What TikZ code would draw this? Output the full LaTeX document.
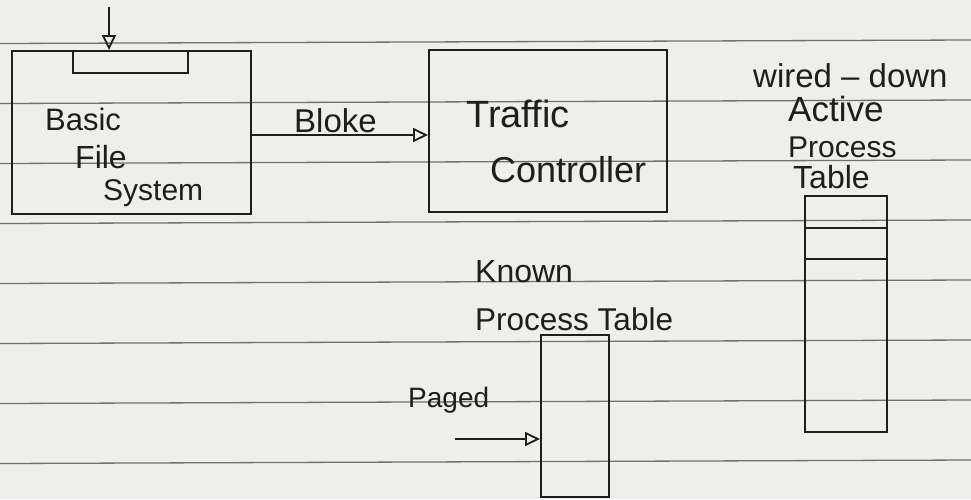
\documentclass[tikz,border=0pt]{standalone}
\usepackage{fontspec}
\setmainfont{Liberation Sans}
\usetikzlibrary{arrows.meta}
\definecolor{paper}{HTML}{EEEEEB}
\definecolor{rule}{HTML}{707070}
\definecolor{ink}{HTML}{1E1E1E}
\tikzset{
  box/.style={draw=ink, line width=2pt, rectangle, inner sep=0pt, fill=none},
  txt/.style={text=ink, inner sep=0pt, anchor=base west},
  conn/.style={draw=ink, line width=1.8pt, -{Triangle[open, length=15pt, width=14pt, line width=1.8pt]}},
  ruleline/.style={draw=rule, line width=1.3pt},
  sep/.style={draw=ink, line width=1.8pt}
}
\newcommand{\fs}[1]{\fontsize{#1}{#1}\selectfont}
\begin{document}
\begin{tikzpicture}[x=1pt, y=-1pt]
\fill[paper] (0,0) rectangle (971,499);
\useasboundingbox (0,0) rectangle (971,499);
% ruled lines of the paper
\foreach \k in {0,...,7} {
  \draw[ruleline] (0,{43.5+60*\k}) -- (971,{40+60*\k});
}
% Basic File System
\node[box, minimum width=239pt, minimum height=163pt] (bfs) at (131.5,132.5) {};
\node[box, minimum width=115pt, minimum height=22pt] (slot) at (130.5,62) {};
\coordinate (in) at (109,7);
\draw[conn] (in) -- (in |- bfs.north);
\node[txt, font=\fs{31}] (t1) at (45,130) {Basic};
\node[txt, font=\fs{32}] (t2) at (75,168) {File};
\node[txt, font=\fs{30}] (t3) at (103,200) {System};
% Traffic Controller
\node[box, minimum width=238pt, minimum height=162pt] (tc) at (548,131) {};
\node[txt, font=\fs{38}] (t4) at (466,127) {Traffic};
\node[txt, font=\fs{36}] (t5) at (490,182) {Controller};
% Bloke arrow
\draw[conn] (bfs.east |- 0,135) -- (tc.west |- 0,135);
\node[txt, font=\fs{33}] (t6) at (294,132) {Bloke};
% wired-down active process table
\node[txt, font=\fs{33}] (t7) at (753,87) {wired – down};
\node[txt, font=\fs{35}] (t8) at (788,121) {Active};
\node[txt, font=\fs{30}] (t9) at (788,157) {Process};
\node[txt, font=\fs{32}] (t10) at (793,188) {Table};
\node[box, minimum width=82pt, minimum height=236pt] (apt) at (846,314) {};
\draw[sep] (apt.west |- 0,228) -- (apt.east |- 0,228);
\draw[sep] (apt.west |- 0,259) -- (apt.east |- 0,259);
% Known process table
\node[txt, font=\fs{32}] (t11) at (475,282) {Known};
\node[txt, font=\fs{31.5}] (t12) at (475,330) {Process Table};
\node[box, minimum width=68pt, minimum height=162pt] (kpt) at (575,416) {};
\node[txt, font=\fs{28}] (t13) at (408,407) {Paged};
\coordinate (pg) at (455,439);
\draw[conn] (pg) -- (pg -| kpt.west);
\end{tikzpicture}
\end{document}
